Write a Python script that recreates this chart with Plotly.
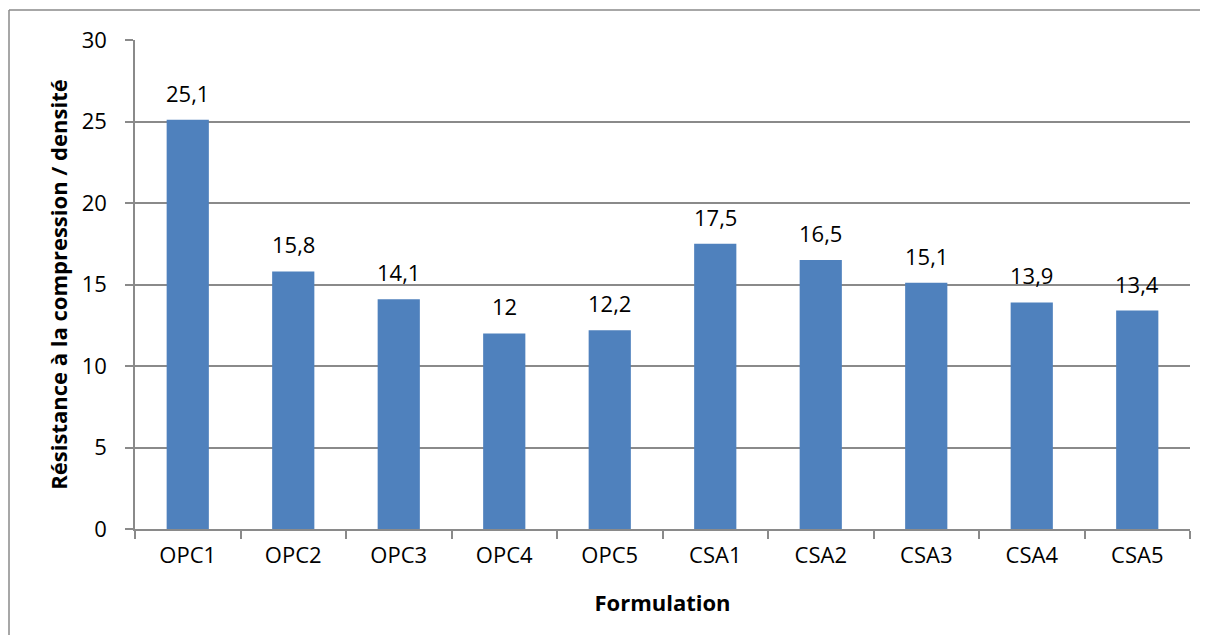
import plotly.graph_objects as go

categories = ["OPC1", "OPC2", "OPC3", "OPC4", "OPC5", "CSA1", "CSA2", "CSA3", "CSA4", "CSA5"]
values = [25.1, 15.8, 14.1, 12, 12.2, 17.5, 16.5, 15.1, 13.9, 13.4]
y_ticks = [0, 5, 10, 15, 20, 25, 30]

def fr(v):
    s = ("%g" % v)
    return s.replace(".", ",")

labels = [fr(v) for v in values]
FONT = "Open Sans"
FS = 22
GRAY = "#8a8a8a"

fig = go.Figure()
fig.add_trace(go.Bar(
    x=categories, y=values,
    marker=dict(color="#4F81BD", line=dict(width=0)),
    width=0.4,
))

for c, v, t in zip(categories, values, labels):
    fig.add_annotation(x=c, y=v, text=t, showarrow=False, yanchor="bottom",
                       yshift=10, font=dict(family=FONT, size=FS, color="#000000"))

fig.update_layout(
    width=1192, height=627,
    margin=dict(l=127, r=10, t=32, b=106),
    paper_bgcolor="white", plot_bgcolor="white",
    showlegend=False,
    font=dict(family=FONT, size=FS, color="#000000"),
    xaxis=dict(
        showline=True, linecolor=GRAY, linewidth=1.5,
        ticks="outside", tickson="boundaries", ticklen=8, tickcolor=GRAY, tickwidth=1.5,
        tickfont=dict(family=FONT, size=FS),
        ticklabelstandoff=6,
        title=dict(text="<b>Formulation</b>", font=dict(family=FONT, size=FS), standoff=27),
        showgrid=False,
    ),
    yaxis=dict(
        range=[0, 30], tickvals=y_ticks,
        showline=True, linecolor=GRAY, linewidth=1.5,
        ticks="outside", ticklen=8, tickcolor=GRAY, tickwidth=1.5,
        showgrid=True, gridcolor=GRAY, gridwidth=1.5,
        zeroline=False,
        tickfont=dict(family=FONT, size=FS),
        ticklabelstandoff=14,
        title=dict(text="<b>Résistance à la compression / densité</b>", font=dict(family=FONT, size=FS), standoff=8),
    ),
)

# outer chart frame (only left and top edges are visible in the reference)
fx0 = (9 - 135) / 1055
fy1 = (529 - 10) / 489
fig.add_shape(type="line", xref="paper", yref="paper",
              x0=fx0, x1=1.2, y0=fy1, y1=fy1, line=dict(color=GRAY, width=1.5))
fig.add_shape(type="line", xref="paper", yref="paper",
              x0=fx0, x1=fx0, y0=-0.4, y1=fy1, line=dict(color=GRAY, width=1.5))

fig.write_html("out.html")
